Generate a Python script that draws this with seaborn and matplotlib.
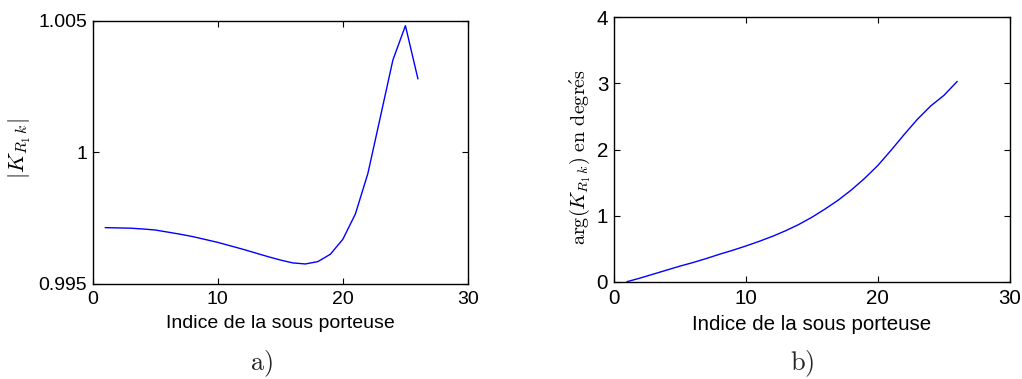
import numpy as np
import pandas as pd
import matplotlib
matplotlib.use("Agg")
import matplotlib.pyplot as plt
import seaborn as sns

# Data
k = list(range(1, 27))
module_vals = [0.99714, 0.99713, 0.99712, 0.99709, 0.99705, 0.99697, 0.99689,
               0.99680, 0.99669, 0.99658, 0.99645, 0.99632, 0.99618, 0.99604,
               0.99591, 0.99580, 0.99576, 0.99585, 0.99613, 0.99670, 0.99766,
               0.99920, 1.00135, 1.00351, 1.00481, 1.00279]
phase_vals = [0.00, 0.055, 0.115, 0.175, 0.235, 0.29, 0.35, 0.415, 0.475,
              0.54, 0.61, 0.685, 0.77, 0.865, 0.975, 1.10, 1.235, 1.39, 1.565,
              1.76, 1.99, 2.23, 2.46, 2.66, 2.82, 3.03]
xticks = [0, 10, 20, 30]
yticks_a = [0.995, 1.0, 1.005]
yticklabels_a = ["0.995", "1", "1.005"]
yticks_b = [0, 1, 2, 3, 4]

xlabel = "Indice de la sous porteuse"
ylabel_a = r"$|K_{R_1\,k}|$"
ylabel_b = r"$\mathrm{arg}(K_{R_1\,k})\ \mathrm{en\ degr\acute{e}s}$"

sns.set_theme(style="white")
plt.rcParams["font.family"] = ["Liberation Sans", "DejaVu Sans"]
plt.rcParams["mathtext.fontset"] = "cm"

df = pd.DataFrame({"k": k, "mod": module_vals, "phase": phase_vals})

fig = plt.figure(figsize=(10.22, 3.79), dpi=100)
ax1 = fig.add_axes([0.0907, 0.2507, 0.3672, 0.6947])
ax2 = fig.add_axes([0.6005, 0.2567, 0.3878, 0.6976])

sns.lineplot(data=df, x="k", y="mod", ax=ax1, color="blue", linewidth=1.0)
sns.lineplot(data=df, x="k", y="phase", ax=ax2, color="blue", linewidth=1.0)

def style(ax, fs):
    ax.set_facecolor("white")
    for s in ax.spines.values():
        s.set_visible(True)
        s.set_color("black")
        s.set_linewidth(1.0)
    ax.tick_params(direction="in", length=4, width=0.8, color="black",
                   top=True, right=True, bottom=True, left=True,
                   labelsize=fs, labelcolor="black")
    ax.tick_params(axis="x", pad=5)
    ax.tick_params(axis="y", pad=4)
    ax.set_xlim(0, 30)
    ax.set_xticks(xticks)
    ax.set_xticklabels([str(t) for t in xticks])
    ax.grid(False)

style(ax1, 14)
style(ax2, 14.8)

ax1.set_ylim(0.995, 1.005)
ax1.set_yticks(yticks_a)
ax1.set_yticklabels(yticklabels_a)
ax2.set_ylim(0, 4)
ax2.set_yticks(yticks_b)
ax2.set_yticklabels([str(t) for t in yticks_b])

ax1.set_xlabel(xlabel, fontsize=14, color="black")
ax2.set_xlabel(xlabel, fontsize=14.8, color="black")
ax1.xaxis.set_label_coords(0.5, -(324 - 284) / 263.3)
ax2.xaxis.set_label_coords(0.5, -(324 - 281.7) / 264.4)
ax1.xaxis.label.set_va("center")
ax2.xaxis.label.set_va("center")

ax1.set_ylabel(ylabel_a, fontsize=16, color="black")
ax2.set_ylabel(ylabel_b, fontsize=14.5, color="black")
ax1.yaxis.label.set_va("center")
ax2.yaxis.label.set_va("center")
ax1.yaxis.set_label_coords((20 - 92.7) / 375.3, 0.513)
ax2.yaxis.set_label_coords((580 - 613.7) / 396.3, 0.47)

fig.text(261.5 / 1022, 1 - 364 / 379, r"$\mathrm{a)}$", fontsize=19,
         ha="center", va="center")
fig.text(802 / 1022, 1 - 364 / 379, r"$\mathrm{b)}$", fontsize=19,
         ha="center", va="center")

fig.savefig("out.png", dpi=100, facecolor="white")
